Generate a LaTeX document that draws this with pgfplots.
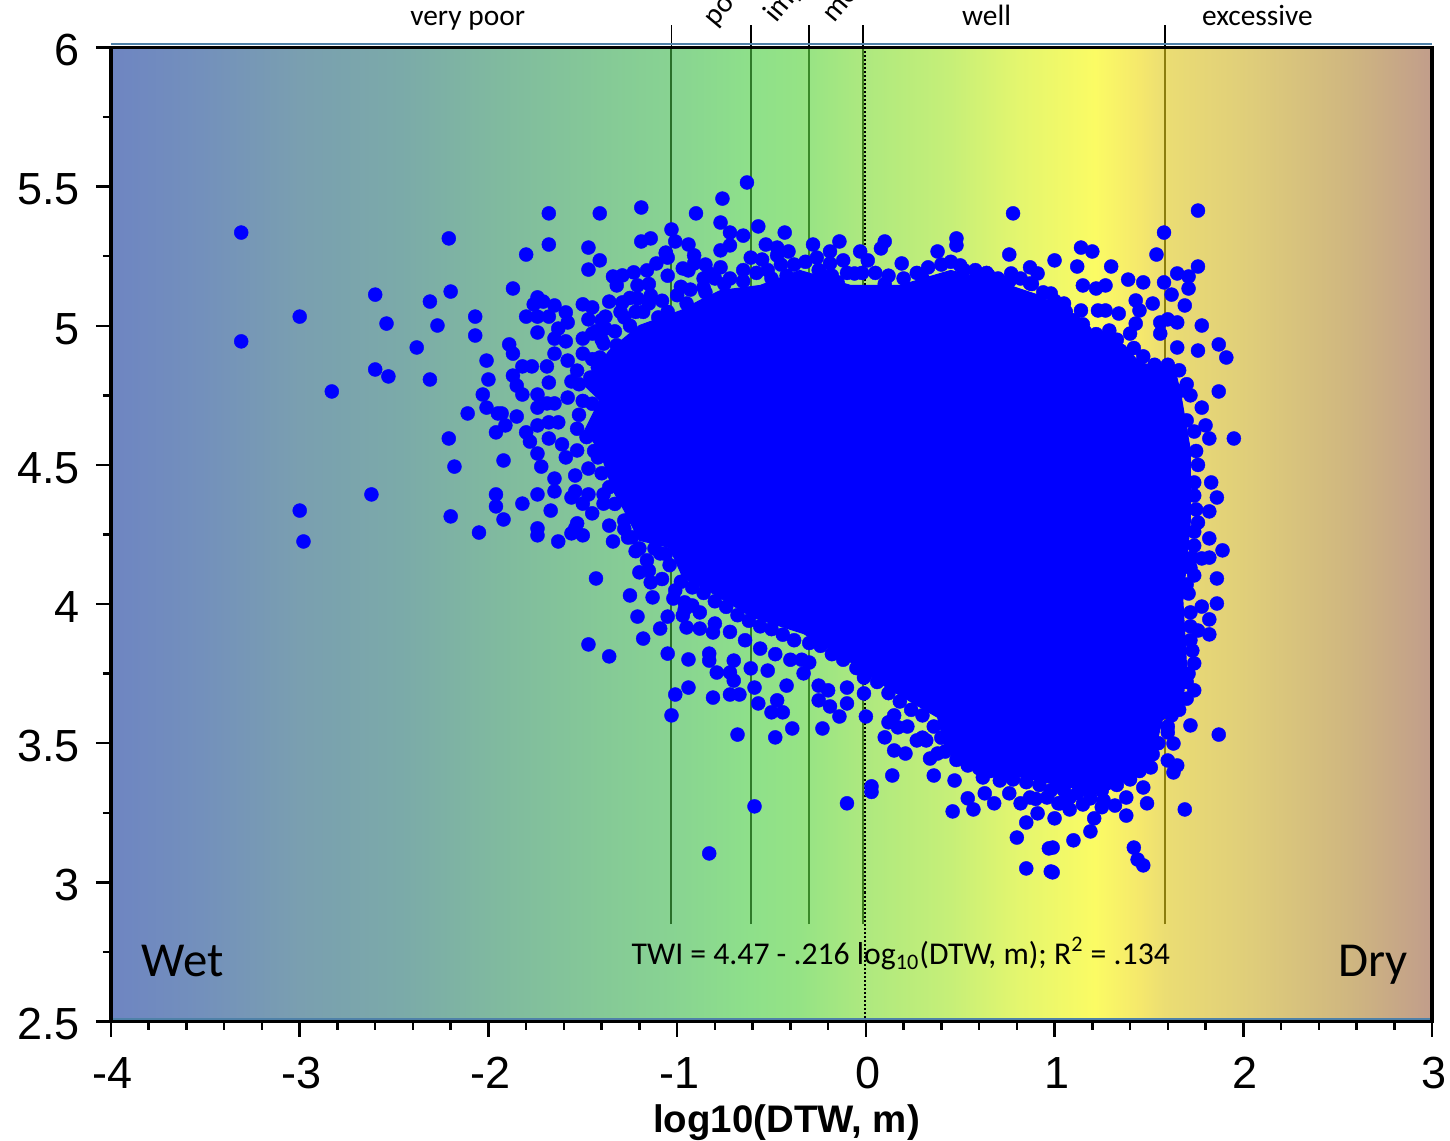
\documentclass[border=0pt]{standalone}
\usepackage{fontspec}
\setmainfont{Liberation Sans}
\newfontfamily\calib{Carlito}
\usepackage{pgfplots}
\pgfplotsset{compat=1.18}
\usepackage{pgfplotstable}
\definecolor{c0}{HTML}{6E85C2}
\definecolor{c1}{HTML}{7390BC}
\definecolor{c2}{HTML}{7A9FB0}
\definecolor{c3}{HTML}{7BAAA9}
\definecolor{c4}{HTML}{80BA9F}
\definecolor{c5}{HTML}{85C997}
\definecolor{c6}{HTML}{88D392}
\definecolor{c7}{HTML}{8EE08A}
\definecolor{c8}{HTML}{95E385}
\definecolor{c9}{HTML}{AEE97F}
\definecolor{c10}{HTML}{C6EF78}
\definecolor{c11}{HTML}{E4F66E}
\definecolor{c12}{HTML}{FBFB64}
\definecolor{c13}{HTML}{F5E86C}
\definecolor{c14}{HTML}{EBDD73}
\definecolor{c15}{HTML}{DFCD7A}
\definecolor{c16}{HTML}{CFB680}
\definecolor{c17}{HTML}{C19D8B}
\definecolor{steel}{HTML}{4F81A8}
\definecolor{la}{HTML}{2A6F2A}
\definecolor{lb}{HTML}{2F7A2A}
\definecolor{lc}{HTML}{3A8A2A}
\definecolor{ld}{HTML}{3F7F1F}
\definecolor{le}{HTML}{8B7D0E}
\pgfdeclarehorizontalshading{soil}{100bp}{color(0bp)=(c0); color(25bp)=(c0); color(28.37bp)=(c1); color(32.15bp)=(c2); color(35.94bp)=(c3); color(39.72bp)=(c4); color(43.51bp)=(c5); color(46.16bp)=(c6); color(49.19bp)=(c7); color(51.08bp)=(c8); color(53.54bp)=(c9); color(56.76bp)=(c10); color(59.41bp)=(c11); color(62.24bp)=(c12); color(63.95bp)=(c13); color(64.89bp)=(c14); color(68.11bp)=(c15); color(71.89bp)=(c16); color(75bp)=(c17); color(100bp)=(c17)}
\pgfplotstableread{
x y
-3.31 5.335
-3.31 4.944
-3.00 5.033
-3.00 4.336
-2.98 4.225
-2.83 4.764
-2.60 5.112
-2.54 5.008
-2.60 4.843
-2.53 4.818
-2.62 4.394
-2.21 5.314
-2.31 5.087
-2.20 5.123
-2.27 5.001
-2.38 4.922
-2.31 4.807
-2.21 4.595
-2.18 4.494
-2.20 4.315
-2.05 4.257
-2.07 5.033
-2.07 4.965
-2.01 4.875
-2.00 4.807
-2.03 4.753
-2.01 4.706
-2.11 4.685
-1.95 4.685
-1.93 4.685
-1.85 4.674
-1.91 4.642
-1.96 4.617
-1.92 4.516
-1.96 4.394
-1.96 4.351
-1.92 4.304
-1.82 4.361
-1.74 4.394
-1.65 4.405
-1.67 4.336
-1.74 4.272
-1.74 4.247
-1.63 4.225
-1.87 5.134
-1.80 5.256
-1.68 5.292
-1.68 5.404
-1.41 5.404
-1.19 5.425
-1.47 5.281
-1.41 5.235
-1.47 5.202
-1.03 5.346
-1.19 5.303
-1.14 5.314
-1.01 5.303
-1.06 5.263
-1.74 5.102
-1.76 5.077
-1.71 5.087
-1.65 5.073
-1.59 5.048
-1.80 5.033
-1.74 5.033
-1.68 5.033
-1.58 5.012
-1.63 4.99
-1.74 4.976
-1.65 4.954
-1.59 4.944
-1.89 4.933
-1.87 4.90
-1.82 4.854
-1.77 4.854
-1.65 4.90
-1.69 4.854
-1.58 4.875
-1.53 4.839
-1.87 4.821
-1.85 4.785
-1.82 4.753
-1.74 4.753
-1.68 4.796
-1.74 4.706
-1.69 4.721
-1.65 4.721
-1.58 4.742
-1.74 4.642
-1.68 4.653
-1.63 4.653
-1.80 4.617
-1.78 4.584
-1.68 4.595
-1.61 4.574
-1.74 4.541
-1.72 4.494
-1.65 4.451
-1.54 4.462
-1.59 4.527
-1.53 4.552
-1.47 4.487
-1.42 4.527
-1.54 4.405
-1.56 4.383
-1.47 4.394
-1.39 4.394
-1.50 4.361
-1.39 4.361
-1.45 4.326
-1.53 4.29
-1.56 4.254
-1.50 4.247
-1.54 4.272
-1.36 4.282
-1.34 4.225
-1.26 4.239
-1.50 5.077
-1.45 5.066
-1.38 5.033
-1.47 5.023
-1.50 4.954
-1.45 4.972
-1.38 4.99
-1.39 4.936
-1.36 5.087
-1.34 5.177
-1.29 5.181
-1.32 5.145
-1.23 5.192
-1.21 5.145
-1.16 5.199
-1.11 5.224
-1.05 5.245
-1.14 5.109
-1.21 5.098
-1.29 5.084
-1.41 4.886
-1.46 4.814
-0.90 5.404
-0.76 5.457
-0.63 5.515
-0.77 5.371
-0.72 5.335
-0.65 5.324
-0.57 5.357
-0.43 5.335
-0.94 5.292
-0.77 5.271
-0.72 5.289
-0.53 5.292
-0.47 5.281
-0.41 5.267
-0.47 5.253
-0.61 5.245
-0.55 5.238
-0.28 5.292
-0.14 5.303
-0.19 5.267
-0.12 5.235
-0.26 5.245
-0.03 5.267
0.01 5.235
0.10 5.303
0.08 5.278
0.19 5.224
0.38 5.267
0.48 5.314
0.48 5.289
-0.91 5.253
-0.91 5.224
-1.06 5.26
-0.94 5.199
-0.97 5.206
-0.23 5.181
-0.19 5.224
-0.06 5.188
-0.15 5.156
-0.83 5.188
-0.77 5.21
-0.86 5.138
0.78 5.404
0.76 5.256
1.76 5.414
1.58 5.335
1.54 5.256
1.76 5.213
1.14 5.281
1.20 5.267
1.00 5.235
1.12 5.213
1.30 5.213
1.39 5.166
1.47 5.156
1.58 5.156
1.65 5.188
1.71 5.177
1.71 5.134
1.15 5.145
1.22 5.134
1.27 5.145
1.62 5.112
1.43 5.091
1.52 5.08
1.45 5.055
1.69 5.073
1.14 5.055
1.23 5.055
1.27 5.055
1.34 5.044
1.78 5.001
1.56 5.012
1.60 5.023
1.65 5.012
1.43 5.008
1.15 5.005
1.87 4.933
1.91 4.886
1.76 4.911
1.65 4.922
1.87 4.764
1.72 4.75
1.68 4.768
1.56 4.972
1.40 4.972
1.29 4.983
0.87 5.21
0.65 5.181
0.50 5.217
0.91 5.188
0.77 5.188
0.59 5.145
0.87 5.152
0.98 5.116
1.05 5.08
1.95 4.595
1.82 4.595
1.80 4.642
1.78 4.706
1.70 4.66
1.83 4.437
1.86 4.383
1.82 4.333
1.74 4.39
1.74 4.437
1.76 4.293
1.82 4.236
1.89 4.193
1.82 4.167
1.78 4.164
1.73 4.167
1.74 4.103
1.86 4.092
1.86 4.002
1.78 3.991
1.82 3.945
1.82 3.891
1.76 3.905
1.73 3.833
1.74 3.787
1.71 4.038
1.74 3.69
1.72 3.564
1.87 3.531
1.60 3.539
1.63 3.499
1.60 3.438
1.65 3.42
1.63 3.395
1.69 3.262
1.49 3.284
1.38 3.24
1.38 3.305
1.47 3.341
1.21 3.23
1.19 3.183
1.10 3.151
1.42 3.125
1.44 3.082
1.47 3.061
0.99 3.125
0.99 3.036
1.08 3.262
1.00 3.23
1.32 3.276
1.08 3.305
1.02 3.284
1.19 3.302
1.26 3.294
1.31 3.377
1.51 3.413
1.03 3.355
-1.43 4.092
-1.25 4.031
-1.21 3.955
-1.47 3.855
-1.36 3.812
-1.18 3.876
-1.09 3.912
-1.05 3.955
-1.05 3.822
-0.94 3.801
-0.83 3.822
-0.83 3.797
-0.79 3.754
-0.94 3.70
-1.01 3.675
-1.03 3.60
-0.81 3.664
-0.72 3.675
-0.67 3.675
-0.57 3.643
-0.47 3.654
-0.50 3.611
-0.44 3.611
-0.39 3.553
-0.68 3.531
-0.48 3.521
-0.23 3.553
-0.25 3.654
-0.19 3.632
-0.14 3.596
0.00 3.596
0.10 3.521
0.15 3.474
0.21 3.463
0.14 3.384
0.36 3.384
0.03 3.345
0.03 3.325
-0.10 3.284
-0.59 3.273
-0.83 3.104
0.46 3.255
0.54 3.302
0.57 3.262
0.63 3.32
0.68 3.284
0.85 3.215
0.80 3.161
0.97 3.122
0.85 3.05
0.98 3.039
0.12 3.575
0.17 3.557
0.27 3.51
0.32 3.51
0.38 3.463
0.34 3.445
0.47 3.366
0.62 3.377
0.76 3.32
0.82 3.284
0.91 3.248
0.96 3.305
1.03 3.284
0.87 3.305
0.71 3.366
-0.33 3.751
-0.30 3.79
-0.42 3.707
-0.52 3.761
-0.61 3.769
-0.59 3.70
-0.70 3.725
-0.72 3.754
-0.95 3.916
-0.88 3.912
-0.81 3.898
-0.97 3.959
-0.92 3.995
-0.96 4.006
-1.13 4.024
-1.14 4.078
-1.01 4.049
-1.20 4.114
-1.16 4.157
-1.09 4.182
-0.25 3.707
-0.10 3.70
-0.10 3.643
-0.20 3.69
-0.01 3.736
-0.01 3.679
-0.70 3.797
-1.45 4.88
-1.40 4.95
-1.33 4.98
-1.28 5.03
-1.22 5.05
-1.15 5.08
-1.08 5.09
-1.00 5.11
-0.93 5.13
-0.86 5.17
-0.80 5.17
-0.72 5.17
-0.65 5.20
-0.58 5.19
-0.52 5.20
-0.45 5.22
-0.38 5.22
-0.32 5.23
-0.25 5.20
-0.18 5.18
-0.10 5.19
-0.02 5.19
0.05 5.19
0.12 5.18
0.20 5.17
0.27 5.19
0.33 5.21
0.40 5.22
0.45 5.23
0.52 5.20
0.58 5.20
0.64 5.19
0.70 5.17
0.76 5.16
0.82 5.17
0.88 5.15
0.94 5.12
1.00 5.09
1.06 5.05
1.10 5.02
1.16 4.98
1.22 4.97
1.28 4.96
1.33 4.95
1.42 4.92
1.47 4.89
1.53 4.86
1.60 4.86
1.66 4.84
1.70 4.79
1.74 4.62
1.75 4.55
1.76 4.50
1.75 4.34
1.74 4.26
1.74 4.21
1.72 4.13
1.70 4.07
1.72 3.97
1.72 3.92
1.72 3.87
1.71 3.75
1.70 3.72
1.70 3.66
1.66 3.62
1.62 3.60
1.60 3.56
1.55 3.50
1.52 3.46
1.45 3.40
1.40 3.37
1.33 3.35
1.25 3.33
1.18 3.33
1.12 3.32
1.05 3.33
0.98 3.33
0.92 3.35
0.85 3.36
0.78 3.37
0.72 3.38
0.66 3.40
0.60 3.41
0.54 3.42
0.48 3.44
0.42 3.47
0.40 3.52
0.36 3.56
0.30 3.60
0.24 3.62
0.18 3.65
0.12 3.68
0.06 3.72
0.00 3.75
-0.05 3.77
-0.12 3.80
-0.18 3.82
-0.24 3.85
-0.30 3.86
-0.38 3.87
-0.44 3.89
-0.50 3.91
-0.56 3.92
-0.62 3.94
-0.68 3.96
-0.74 3.99
-0.80 4.01
-0.86 4.04
-0.92 4.06
-0.98 4.08
-1.04 4.14
-1.06 4.18
-1.12 4.20
-1.20 4.20
-1.24 4.24
-1.28 4.30
-1.33 4.36
-1.36 4.42
-1.40 4.47
-1.44 4.55
-1.48 4.60
-1.53 4.63
-1.52 4.68
-1.50 4.73
-1.52 4.79
-1.45 4.72
-1.25 5.10
-1.15 5.15
-1.05 5.18
-0.98 5.14
-0.85 5.22
-1.30 5.05
-1.18 5.05
-1.43 4.98
-1.50 4.90
-1.56 4.80
-1.40 5.02
-1.28 4.27
-1.22 4.19
-1.15 4.12
-1.08 4.09
-1.02 4.02
-0.96 3.98
-0.88 3.97
-0.80 3.93
-0.72 3.90
-0.64 3.87
-0.56 3.84
-0.48 3.82
-0.40 3.80
-0.34 3.80
0.15 3.60
0.22 3.56
0.30 3.52
1.15 3.28
1.25 3.27
0.90 3.30
-1.10 5.03
-0.95 5.08
-0.85 5.12
-0.75 5.15
-0.65 5.16
-0.50 5.17
-0.42 5.18
-1.05 5.05
-1.25 5.00
-1.32 4.93
-1.42 4.85
0.10 5.15
-0.15 5.15
0.30 5.17
0.62 5.17
0.72 5.14
1.00 5.05
1.10 4.98
1.25 4.93
1.35 4.91
1.50 4.83
}\points
\begin{document}
\begin{tikzpicture}
\useasboundingbox (-55.5pt,-59.25pt) rectangle (669.5pt,510.75pt);
\begin{axis}[
  scale only axis, width=660.5pt, height=487pt,
  xmin=-4, xmax=3, ymin=2.5, ymax=6,
  clip=false, axis on top,
  axis line style={black, line width=1.75pt},
  xtick={-4,-3,-2,-1,0,1,2,3},
  xticklabels={-4,-3,-2,-1,0,1,2,3},
  ytick={2.5,3,3.5,4,4.5,5,5.5,6},
  yticklabels={2.5,3,3.5,4,4.5,5,5.5,6},
  minor x tick num=4, minor y tick num=1,
  tick align=outside, tick pos=left,
  major tick length=7.5pt, minor tick length=4pt,
  tick style={black, line width=1.25pt},
  ticklabel style={font=\fontsize{22.5}{25}\selectfont},
  xticklabel style={yshift=-7pt,xshift=1pt},
  yticklabel style={xshift=-4.5pt,yshift=-1.5pt},
]
\path[shading=soil] (axis cs:-4,2.5) rectangle (axis cs:3,6);
% drainage class boundaries
\addplot[la, line width=1pt] coordinates {(-1.03,2.85) (-1.03,6)};
\addplot[lb, line width=1pt] coordinates {(-0.61,2.85) (-0.61,6)};
\addplot[lc, line width=1pt] coordinates {(-0.30,2.85) (-0.30,6)};
\addplot[ld, line width=1pt] coordinates {(-0.015,2.85) (-0.015,6)};
\addplot[le, line width=1pt] coordinates {(1.585,2.85) (1.585,6)};
\addplot[black, line width=1pt, densely dotted] coordinates {(-0.005,2.5) (-0.005,6)};
\addplot[black, line width=0.8pt] coordinates {(-1.03,6) (-1.03,6.08)};
\addplot[black, line width=0.8pt] coordinates {(-0.61,6) (-0.61,6.08)};
\addplot[black, line width=0.8pt] coordinates {(-0.30,6) (-0.30,6.08)};
\addplot[black, line width=0.8pt] coordinates {(-0.015,6) (-0.015,6.08)};
\addplot[black, line width=0.8pt] coordinates {(1.585,6) (1.585,6.08)};
% dense core of the cloud
\addplot[fill=blue, draw=blue, line width=0.5pt] coordinates {
(-1.49,4.785) (-1.36,4.911) (-1.20,5.001) (-0.98,5.055) (-0.88,5.091) (-0.77,5.127)
(-0.56,5.145) (-0.35,5.199) (-0.08,5.145) (0.18,5.145) (0.45,5.199) (0.76,5.145)
(0.92,5.109) (1.05,5.055) (1.19,4.965) (1.37,4.929) (1.45,4.868) (1.64,4.839)
(1.67,4.75) (1.72,4.552) (1.72,4.30) (1.68,4.013) (1.70,3.772) (1.68,3.654)
(1.57,3.582) (1.51,3.413) (1.28,3.33) (1.08,3.341) (0.73,3.391) (0.43,3.463)
(0.38,3.593) (0.11,3.70) (-0.07,3.787) (-0.33,3.894) (-0.60,3.952) (-0.81,4.038)
(-0.97,4.096) (-1.04,4.203) (-1.20,4.229) (-1.28,4.336) (-1.34,4.408) (-1.41,4.552)
(-1.49,4.624) (-1.41,4.732)
} -- cycle;
\addplot[blue, only marks, mark=*, mark size=3.5pt, mark options={solid, draw=blue, fill=blue, line width=0.2pt}] table[x=x,y=y] {\points};
% rims
\addplot[steel, line width=1pt] coordinates {(-4,6.012) (3,6.012)};
\addplot[steel, line width=1pt] coordinates {(-4,2.509) (3,2.509)};
% text
\node[font=\calib\fontsize{14.7}{17}\selectfont, anchor=base] at (axis cs:-2.11,6.08) {very poor};
\node[font=\calib\fontsize{14.7}{17}\selectfont, anchor=base] at (axis cs:0.64,6.08) {well};
\node[font=\calib\fontsize{14.7}{17}\selectfont, anchor=base] at (axis cs:2.075,6.08) {excessive};
\node[font=\calib\fontsize{14.7}{17}\selectfont, anchor=base west, rotate=50, inner sep=0pt] at (axis cs:-0.80,6.072) {poo};
\node[font=\calib\fontsize{14.7}{17}\selectfont, anchor=base west, rotate=50, inner sep=0pt] at (axis cs:-0.475,6.086) {imp};
\node[font=\calib\fontsize{14.7}{17}\selectfont, anchor=base west, rotate=50, inner sep=0pt] at (axis cs:-0.17,6.086) {mo};
\node[font=\calib\fontsize{15.85}{18}\selectfont, anchor=base, inner sep=0pt] at (axis cs:0.185,2.705) {TWI = 4.47 - .216 log\textsubscript{10}(DTW, m); R\textsuperscript{2} = .134};
\node[font=\calib\fontsize{24.4}{27}\selectfont, anchor=base west, inner sep=0pt] at (axis cs:-3.84,2.66) {Wet};
\node[font=\calib\fontsize{24.4}{27}\selectfont, anchor=base east, inner sep=0pt] at (axis cs:2.875,2.66) {Dry};
\node[font=\bfseries\fontsize{19.2}{22}\selectfont, anchor=base, inner sep=0pt] at (axis cs:-0.42,2.10) {log10(DTW, m)};
\end{axis}
\end{tikzpicture}
\end{document}
